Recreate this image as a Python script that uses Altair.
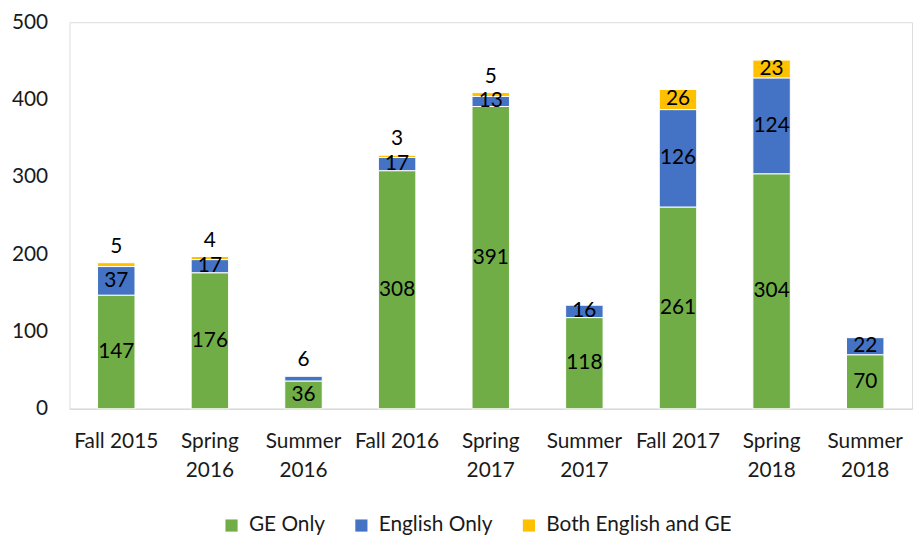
import altair as alt
import pandas as pd

terms = ["Fall 2015", "Spring 2016", "Summer 2016", "Fall 2016", "Spring 2017",
         "Summer 2017", "Fall 2017", "Spring 2018", "Summer 2018"]
ge_only = [147, 176, 36, 308, 391, 118, 261, 304, 70]
english_only = [37, 17, 6, 17, 13, 16, 126, 124, 22]
both = [5, 4, 0, 3, 5, 0, 26, 23, 0]
series = ["GE Only", "English Only", "Both English and GE"]
colors = ["#70AD47", "#4472C4", "#FFC000"]

rows = []
for i, t in enumerate(terms):
    base = 0
    for s, vals in zip(series, [ge_only, english_only, both]):
        v = vals[i]
        if v > 0:
            rows.append({"term": t, "series": s, "value": v, "y0": base,
                         "y1": base + v, "mid": base + v / 2,
                         "small": v < 10, "order": series.index(s)})
        base += v
df = pd.DataFrame(rows)

FONT = "Lato"

x = alt.X("term:N", sort=terms, title=None,
          scale=alt.Scale(paddingInner=0.6, paddingOuter=0.3),
          axis=alt.Axis(labelAngle=0, ticks=False, domainColor="#D9D9D9", domainWidth=1.5,
                        labelFontSize=21, labelFont=FONT, labelColor="#1a1a1a",
                        labelPadding=22, labelLineHeight=29,
                        labelExpr="indexof(datum.label, 'Fall') == 0 ? datum.label : split(datum.label, ' ')"))

bars = alt.Chart(df).mark_bar(stroke="white", strokeWidth=1).encode(
    x=x,
    y=alt.Y("y0:Q", title=None, scale=alt.Scale(domain=[0, 500]),
            axis=alt.Axis(values=[0, 100, 200, 300, 400, 500], grid=False, domain=False,
                          ticks=False, labelFontSize=21, labelFont=FONT,
                          labelColor="#1a1a1a", labelPadding=22)),
    y2="y1:Q",
    color=alt.Color("series:N", scale=alt.Scale(domain=series, range=colors),
                    legend=alt.Legend(title=None, orient="none", direction="horizontal",
                                      legendX=153, legendY=497, symbolType="square",
                                      symbolSize=150, symbolStrokeWidth=0,
                                      labelFontSize=21, labelFont=FONT, labelLimit=0,
                                      labelColor="#1a1a1a", columnPadding=26,
                                      symbolOffset=0, labelOffset=7)),
)

big_labels = alt.Chart(df).transform_filter("!datum.small").mark_text(
    fontSize=21, font=FONT, color="black", baseline="middle"
).encode(x=alt.X("term:N", sort=terms), y=alt.Y("mid:Q"), text="value:Q")

small_labels = alt.Chart(df).transform_filter("datum.small").mark_text(
    fontSize=21, font=FONT, color="black", baseline="bottom", dy=-6
).encode(x=alt.X("term:N", sort=terms), y=alt.Y("y1:Q"), text="value:Q")

chart = alt.layer(bars, big_labels, small_labels).properties(
    width=850, height=390,
    autosize=alt.AutoSizeParams(type="none"),
    padding={"left": 62, "top": 12, "right": 3, "bottom": 130},
).configure_view(stroke=None).configure(background="white")

chart.save("out.html", embed_options={"renderer": "svg", "actions": False})
